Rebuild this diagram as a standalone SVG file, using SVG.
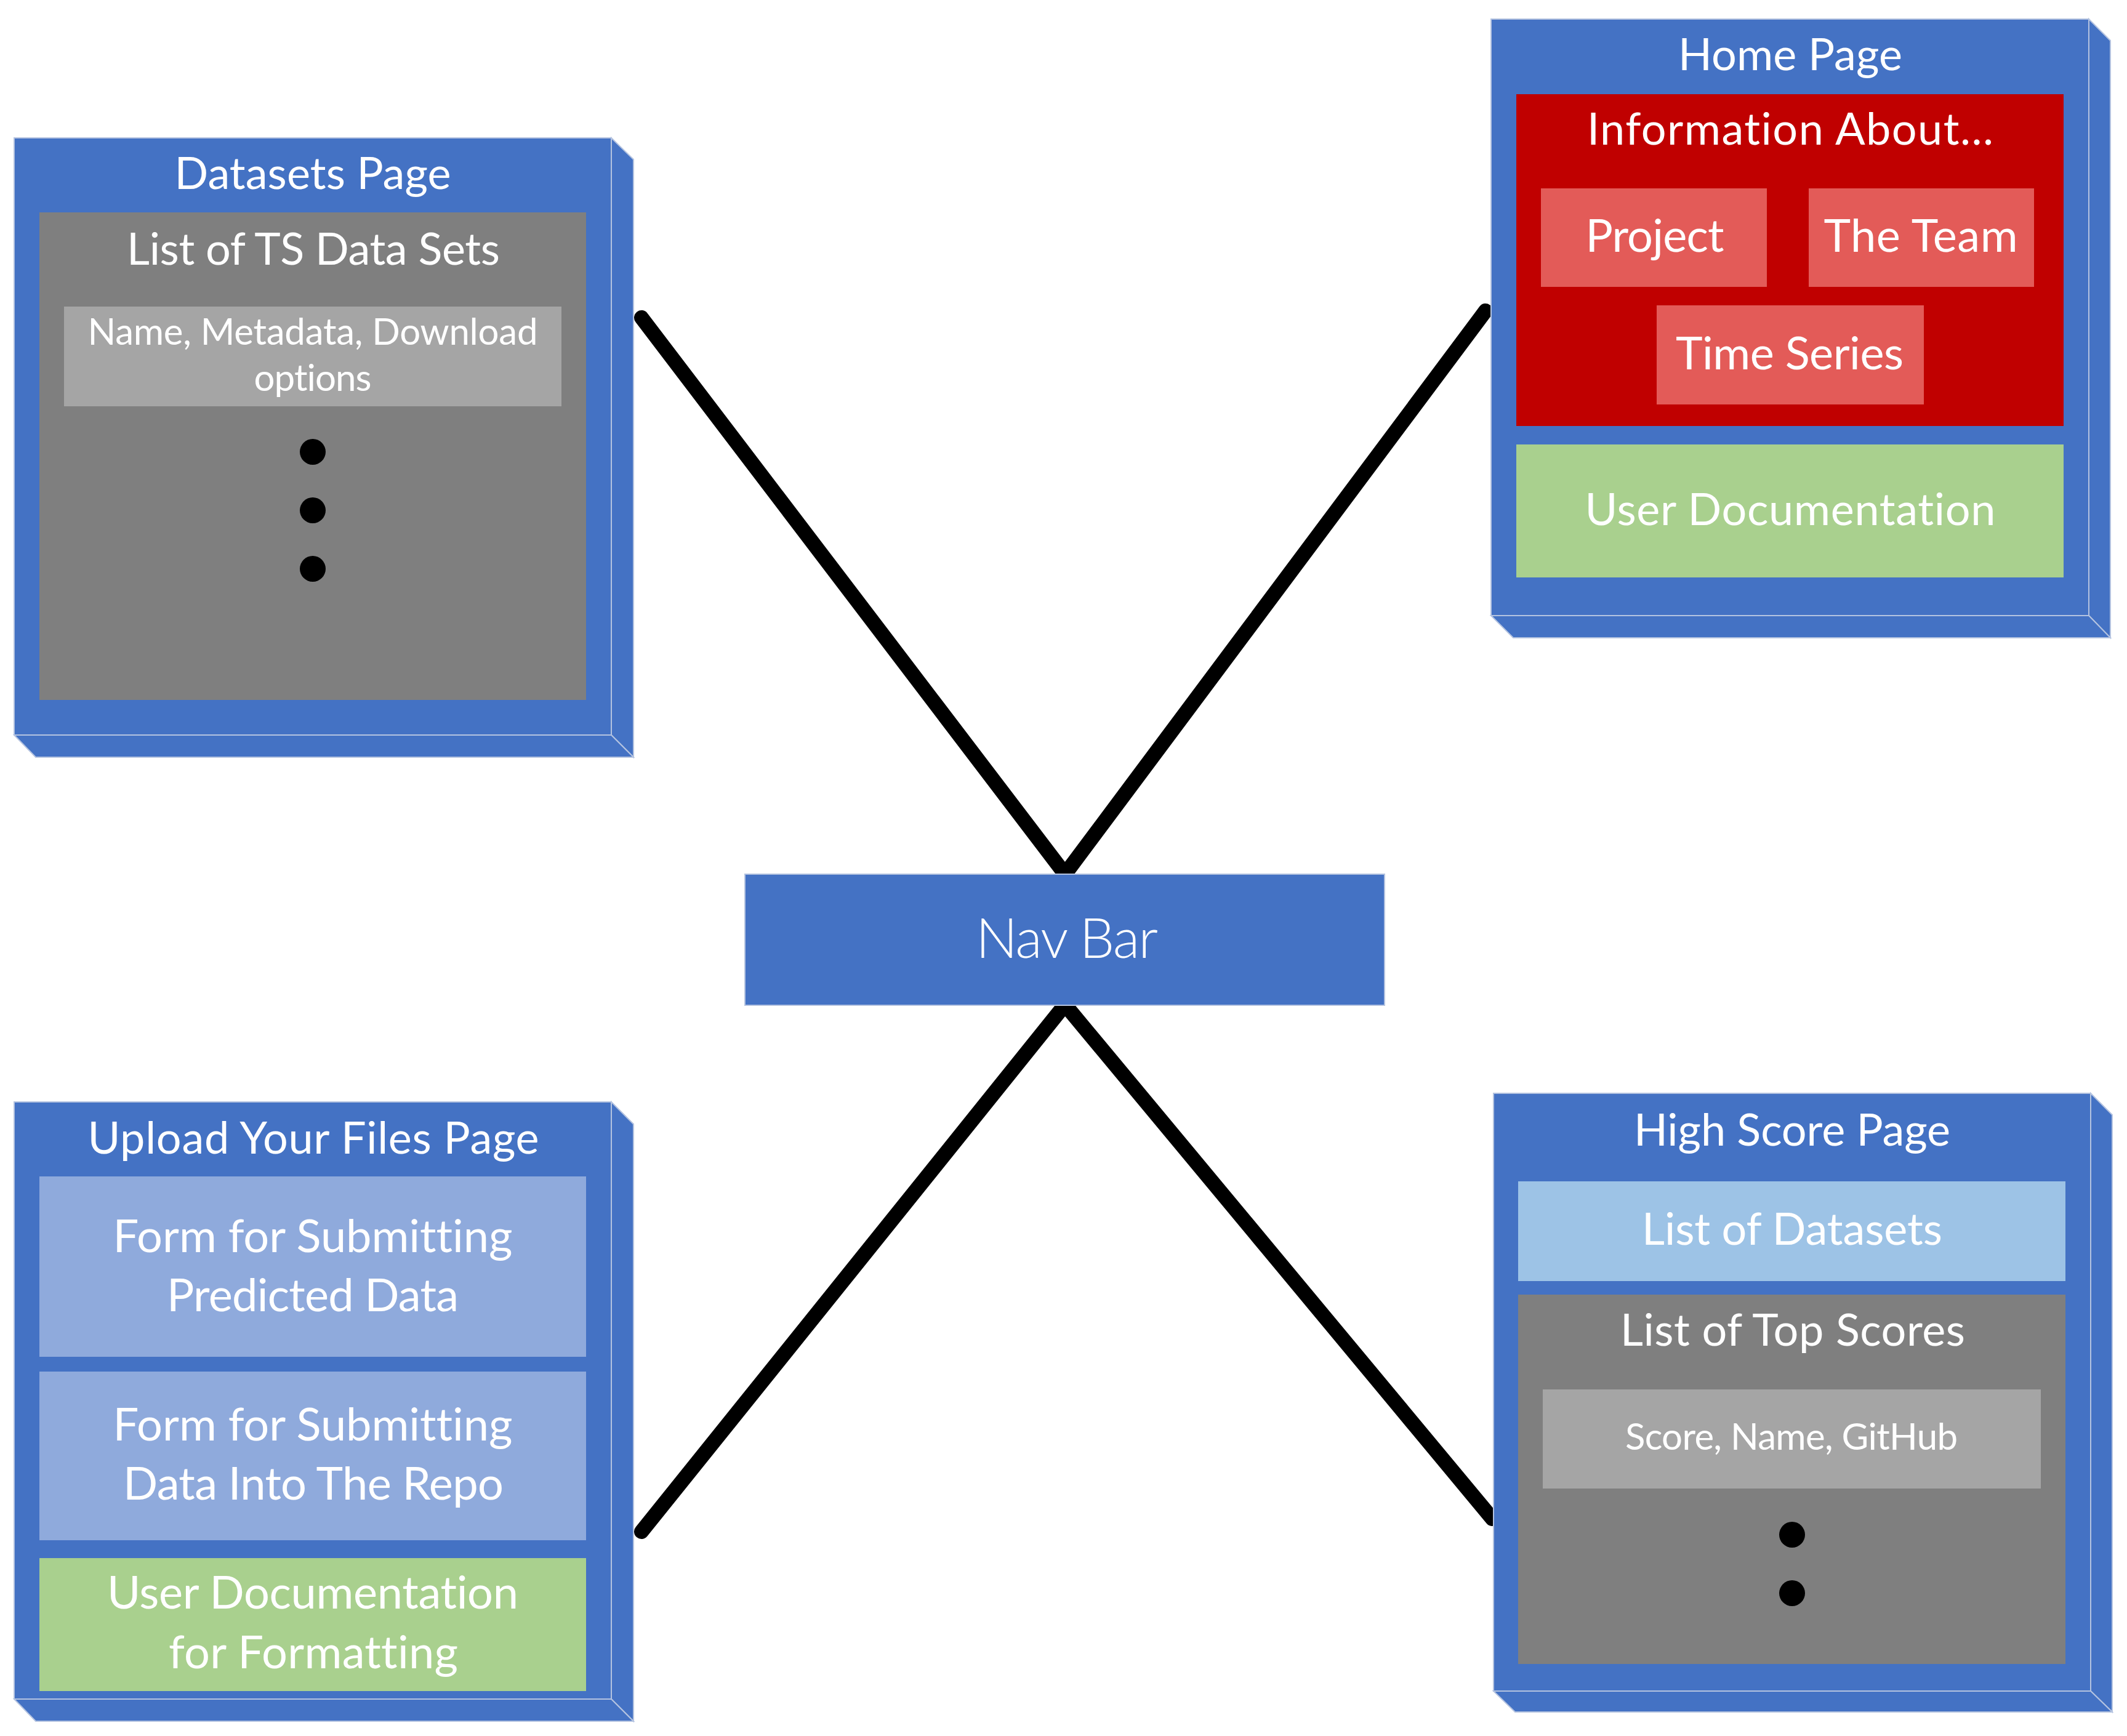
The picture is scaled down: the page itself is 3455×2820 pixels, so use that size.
<svg xmlns="http://www.w3.org/2000/svg" width="3455" height="2820" viewBox="0 0 3455 2820">
<style>
.face{fill:#4472C4;stroke:#B4C3E0;stroke-width:2;stroke-linejoin:miter}
.t{font-family:Lato,"Noto Sans","Open Sans",sans-serif;fill:#FFFFFF;text-anchor:middle;font-variant-ligatures:none}
.big{font-size:72px}
.mid{font-size:74px}
.sm{font-size:60px}
.conn{stroke:#000000;stroke-width:24;stroke-linecap:round;fill:none}
.dot{fill:#000000}
</style>
<rect x="0" y="0" width="3455" height="2820" fill="#FFFFFF"/>

<g id="connectors">
<line class="conn" x1="1042" y1="516" x2="1730" y2="1420"/>
<line class="conn" x1="2413" y1="505" x2="1730" y2="1420"/>
<line class="conn" x1="1042" y1="2488" x2="1730" y2="1632"/>
<line class="conn" x1="2424" y1="2467" x2="1730" y2="1632"/>
</g>

<g id="datasets-page">
<polygon class="face" points="993,224 1029,259 1029,1230 993,1194"/>
<polygon class="face" points="23,1194 993,1194 1029,1230 58,1230"/>
<rect class="face" x="23" y="224" width="970" height="970"/>
<text class="t big" x="508" y="307" textLength="449">Datasets Page</text>
<rect x="64" y="345" width="888" height="792" fill="#7F7F7F"/>
<text class="t big" x="509" y="430" textLength="606">List of TS Data Sets</text>
<rect x="104" y="498" width="808" height="162" fill="#A5A5A5"/>
<text class="t sm" x="508" y="560" textLength="731">Name, Metadata, Download</text>
<text class="t sm" x="508" y="635" textLength="191">options</text>
<circle class="dot" cx="508" cy="734" r="21"/>
<circle class="dot" cx="508" cy="829" r="21"/>
<circle class="dot" cx="508" cy="924" r="21"/>
</g>

<g id="home-page">
<polygon class="face" points="3393,31 3428,66 3428,1036 3393,1000"/>
<polygon class="face" points="2422,1000 3393,1000 3428,1036 2458,1036"/>
<rect class="face" x="2422" y="31" width="971" height="969"/>
<text class="t big" x="2908" y="114" textLength="364">Home Page</text>
<rect x="2463" y="153" width="889" height="539" fill="#C00000"/>
<text class="t big" x="2908" y="235" textLength="660">Information About...</text>
<rect x="2503" y="306" width="367" height="160" fill="#E35B58"/>
<text class="t mid" x="2688" y="409" textLength="225">Project</text>
<rect x="2938" y="306" width="366" height="160" fill="#E35B58"/>
<text class="t mid" x="3120" y="409" textLength="315">The Team</text>
<rect x="2691" y="496" width="434" height="161" fill="#E35B58"/>
<text class="t mid" x="2907" y="600" textLength="370">Time Series</text>
<rect x="2463" y="722" width="889" height="216" fill="#A9D08E"/>
<text class="t big" x="2908" y="853" textLength="667">User Documentation</text>
</g>

<g id="nav-bar">
<rect x="1210" y="1420" width="1039" height="213" fill="#4472C4" stroke="#B4C3E0" stroke-width="2"/>
<text class="t" x="1733" y="1556" font-size="90" font-weight="300" textLength="296">Nav Bar</text>
</g>

<g id="upload-page">
<polygon class="face" points="993,1790 1029,1826 1029,2796 993,2760"/>
<polygon class="face" points="23,2760 993,2760 1029,2796 58,2796"/>
<rect class="face" x="23" y="1790" width="970" height="970"/>
<text class="t big" x="509" y="1874" textLength="733">Upload Your Files Page</text>
<rect x="64" y="1911" width="888" height="293" fill="#8FAADC"/>
<text class="t mid" x="508" y="2034" textLength="649">Form for Submitting</text>
<text class="t mid" x="508" y="2130" textLength="474">Predicted Data</text>
<rect x="64" y="2228" width="888" height="274" fill="#8FAADC"/>
<text class="t mid" x="508" y="2340" textLength="649">Form for Submitting</text>
<text class="t mid" x="509" y="2436" textLength="618">Data Into The Repo</text>
<rect x="64" y="2531" width="888" height="216" fill="#A9D08E"/>
<text class="t mid" x="508" y="2613" textLength="668">User Documentation</text>
<text class="t mid" x="509" y="2710" textLength="470">for Formatting</text>
</g>

<g id="high-score-page">
<polygon class="face" points="3396,1776 3431,1811 3431,2781 3396,2747"/>
<polygon class="face" points="2426,2747 3396,2747 3431,2781 2461,2781"/>
<rect class="face" x="2426" y="1776" width="970" height="971"/>
<text class="t big" x="2911" y="1861" textLength="514">High Score Page</text>
<rect x="2466" y="1919" width="889" height="162" fill="#9DC3E6"/>
<text class="t big" x="2911" y="2022" textLength="488">List of Datasets</text>
<rect x="2466" y="2103" width="889" height="600" fill="#7F7F7F"/>
<text class="t big" x="2912" y="2186" textLength="560">List of Top Scores</text>
<rect x="2506" y="2257" width="809" height="161" fill="#A5A5A5"/>
<text class="t sm" x="2910" y="2355" textLength="540">Score, Name, GitHub</text>
<circle class="dot" cx="2911" cy="2493" r="21"/>
<circle class="dot" cx="2911" cy="2588" r="21"/>
</g>
</svg>
